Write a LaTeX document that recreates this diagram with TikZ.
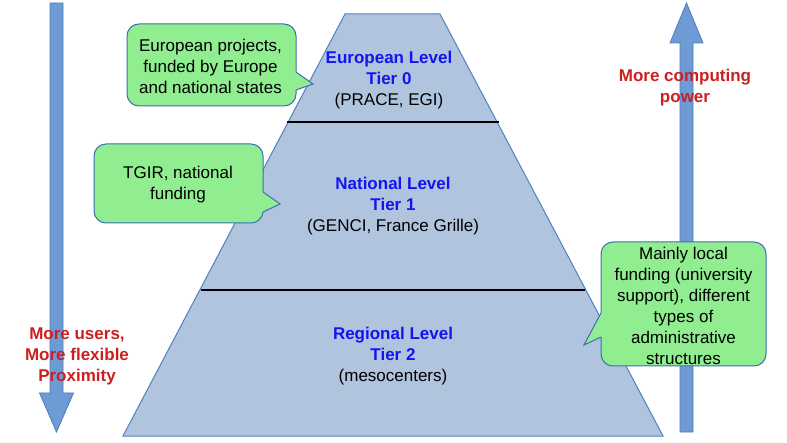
\documentclass[tikz,border=0pt]{standalone}
\usepackage{fontspec}
\setmainfont{Liberation Sans}
\definecolor{pyrfill}{HTML}{B0C4DE}
\definecolor{pyrline}{HTML}{4F81BD}
\definecolor{callfill}{HTML}{90EE90}
\definecolor{callline}{HTML}{3C6EB4}
\definecolor{arrfill}{HTML}{6F9BD5}
\definecolor{arrline}{HTML}{4A7EBB}
\definecolor{lvlblue}{HTML}{1414F0}
\definecolor{dred}{HTML}{CC1F1F}
\begin{document}
\begin{tikzpicture}[x=1pt,y=-1pt,
  pyramid/.style={fill=pyrfill,draw=pyrline,line width=1pt,line join=miter},
  divider/.style={draw=black,line width=1.2pt},
  bigarrow/.style={fill=arrfill,draw=arrline,line width=0.8pt,line join=miter},
  callbox/.style={fill=callfill,draw=callline,line width=1pt,rounded corners=12pt},
  calltail/.style={draw=callline,line width=1pt,line join=miter},
  txt/.style={inner sep=0pt,align=center,font=\fontsize{17}{21}\selectfont},
  lvl/.style={txt,text=lvlblue},
  redtxt/.style={txt,text=dred,font=\fontsize{17}{21}\selectfont\bfseries}]
\useasboundingbox (0,0) rectangle (787,443);
% pyramid
\coordinate (pA) at (345,14);
\coordinate (pB) at (440,14);
\coordinate (pC) at (663,436);
\coordinate (pD) at (123,436);
\draw[pyramid] (pA) -- (pB) -- (pC) -- (pD) -- cycle;
\coordinate (d1l) at (287,122);
\coordinate (d1r) at (499,122);
\coordinate (d2l) at (201,290);
\coordinate (d2r) at (585,290);
\draw[divider] (d1l) -- (d1r);
\draw[divider] (d2l) -- (d2r);
% pyramid texts
\node[txt] (t0) at (389,80) {\textcolor{lvlblue}{\bfseries European Level}\\\textcolor{lvlblue}{\bfseries Tier 0}\\(PRACE, EGI)};
\node[txt] (t1) at (393,206.5) {\textcolor{lvlblue}{\bfseries National Level}\\\textcolor{lvlblue}{\bfseries Tier 1}\\(GENCI, France Grille)};
\node[txt] (t2) at (393,356) {\textcolor{lvlblue}{\bfseries Regional Level}\\\textcolor{lvlblue}{\bfseries Tier 2}\\(mesocenters)};
% arrows
\draw[bigarrow] (50,3) -- (63,3) -- (63,393) -- (73.5,393) -- (56.5,432) -- (39.5,393) -- (50,393) -- cycle;
\draw[bigarrow] (686.5,3) -- (703,43) -- (693,43) -- (693,432) -- (680,432) -- (680,43) -- (670,43) -- cycle;
% red labels
\node[redtxt] (lr) at (685,87.5) {More computing\\power};
\node[redtxt] (ll) at (77,356.5) {More users,\\More flexible\\Proximity};
% callout 1
\draw[callbox] (127,24) rectangle (296,106);
\coordinate (c1a) at (296,72);
\coordinate (c1t) at (313,84);
\coordinate (c1b) at (296,90);
\fill[callfill] (294.3,72) -- (c1a) -- (c1t) -- (c1b) -- (294.3,90) -- cycle;
\draw[calltail] (c1a) -- (c1t) -- (c1b);
\node[txt] (c1) at (210.5,66) {European projects,\\funded by Europe\\and national states};
% callout 2
\draw[callbox] (94,144) rectangle (263,223);
\coordinate (c2a) at (263,192);
\coordinate (c2t) at (280,204);
\coordinate (c2b) at (263,212);
\fill[callfill] (261.3,192) -- (c2a) -- (c2t) -- (c2b) -- (261.3,212) -- cycle;
\draw[calltail] (c2a) -- (c2t) -- (c2b);
\node[txt] (c2) at (178,185) {TGIR, national\\funding};
% callout 3
\draw[callbox] (601,242) rectangle (766,366);
\coordinate (c3a) at (601,313);
\coordinate (c3t) at (584,345);
\coordinate (c3b) at (601,337);
\fill[callfill] (602.7,313) -- (c3a) -- (c3t) -- (c3b) -- (602.7,337) -- cycle;
\draw[calltail] (c3a) -- (c3t) -- (c3b);
\node[txt] (c3) at (683.5,305.5) {Mainly local\\funding (university\\support), different\\types of\\administrative\\structures};
\end{tikzpicture}
\end{document}
